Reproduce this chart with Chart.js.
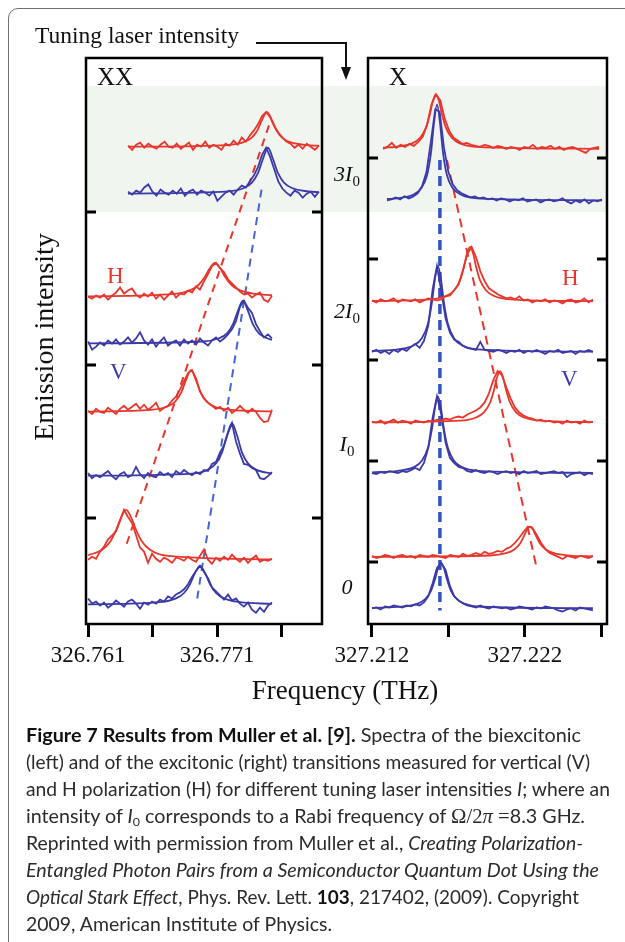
<!DOCTYPE html>
<html><head><meta charset="utf-8">
<script src="https://cdn.jsdelivr.net/npm/chart.js@4.4.0/dist/chart.umd.min.js"></script>
<style>
html,body{margin:0;padding:0;background:#fff;}
body{width:625px;height:942px;position:relative;overflow:hidden;}
#frameBox{position:absolute;left:8px;top:8px;width:700px;height:1000px;border:1.5px solid #707070;border-radius:10px;box-sizing:border-box;}
#band{position:absolute;left:86px;top:86px;width:521px;height:126px;background:#f0f5f0;}
canvas{position:absolute;left:0;top:0;}
.t{position:absolute;white-space:nowrap;font-family:'Liberation Serif','Times New Roman',serif;color:#111;line-height:1;}
.ilab{left:307px;width:80px;text-align:center;font-size:22px;}
.ilab .s{font-size:15px;position:relative;top:5px;font-style:normal;}
.cap{position:absolute;left:26px;font-family:Lato,'Open Sans',sans-serif;font-size:19px;line-height:27px;color:#2b2b2b;white-space:nowrap;transform-origin:0 0;}
.cap b{color:#111;}
.cap sub{font-size:12px;vertical-align:-3px;line-height:0;}
.cap .m{font-family:'Liberation Serif','Times New Roman',serif;font-size:20px;}
</style></head><body>
<div id="frameBox"></div>
<div id="band"></div>
<canvas id="cXX" width="625" height="720"></canvas>
<canvas id="cX" width="625" height="720"></canvas>
<svg width="625" height="100" style="position:absolute;left:0;top:0">
  <polyline points="256,43 346,43 346,70" fill="none" stroke="#111" stroke-width="2"/>
  <polygon points="341,67 351,67 346,80" fill="#111"/>
</svg>
<div class="t" style="left:35px;top:24px;font-size:23.5px;">Tuning laser intensity</div>
<div class="t" style="left:97px;top:64px;font-size:25px;">XX</div>
<div class="t" style="left:389px;top:64px;font-size:25px;">X</div>
<div class="t" style="left:107px;top:264px;font-size:23px;color:#e8362c;">H</div>
<div class="t" style="left:110px;top:360px;font-size:23px;color:#3b3aa8;">V</div>
<div class="t" style="left:562px;top:266px;font-size:23px;color:#e8362c;">H</div>
<div class="t" style="left:561px;top:367px;font-size:23px;color:#3b3aa8;">V</div>
<div class="t ilab" style="top:163px;"><i>3I</i><span class="s">0</span></div>
<div class="t ilab" style="top:300px;"><i>2I</i><span class="s">0</span></div>
<div class="t ilab" style="top:433px;"><i>I</i><span class="s">0</span></div>
<div class="t ilab" style="top:576px;"><i>0</i></div>
<div class="t" style="left:-86px;top:323px;width:260px;text-align:center;font-size:28px;transform:rotate(-90deg);">Emission intensity</div>
<div class="t" style="left:195px;top:677px;width:300px;text-align:center;font-size:27px;">Frequency (THz)</div>

<div class="cap" style="top:721px;"><b>Figure 7 Results from Muller et al. [9].</b> Spectra of the biexcitonic</div>
<div class="cap" style="top:748px;">(left) and of the excitonic (right) transitions measured for vertical (V)</div>
<div class="cap" style="top:775px;">and H polarization (H) for different tuning laser intensities <i>I</i>; where an</div>
<div class="cap" style="top:802px;">intensity of <i>I</i><sub>0</sub> corresponds to a Rabi frequency of <span class="m">Ω/2<i>π</i></span> <span class="m">=</span>8.3 GHz.</div>
<div class="cap" style="top:829px;">Reprinted with permission from Muller et al., <i>Creating Polarization-</i></div>
<div class="cap" style="top:856px;"><i>Entangled Photon Pairs from a Semiconductor Quantum Dot Using the</i></div>
<div class="cap" style="top:883px;"><i>Optical Stark Effect</i>, Phys. Rev. Lett. <b>103</b>, 217402, (2009). Copyright</div>
<div class="cap" style="top:910px;">2009, American Institute of Physics.</div>

<script>
// ---------- XX (biexciton) panel ----------
const xxRange = [326.76084, 326.77914];          // THz
const xxTicks = [326.761, 326.766, 326.771, 326.776];
const xxTickLabels = ['326.761', '', '326.771', ''];
const xxYRange = [-4, 551];                      // intensity (a.u., offset)
const xxYTicks = [100, 250, 400];
const xxSpanLow = [326.76100, 326.77526];        // scan range, levels 0, I0, 2I0
const xxSpanTop = [326.76410, 326.77890];        // scan range, level 3I0
// levels: [0, I0, 2I0, 3I0]
const xxBaseH = [59, 204, 317, 464];
const xxBaseV = [15, 141, 271, 418];
const xxCentreH = [326.76395, 326.76898, 326.77084, 326.77487];
const xxCentreV = [326.76968, 326.77216, 326.77301, 326.77495];
// measured spectra (counts above offset)
const xxH0 = [0,3,1,8,13,20,24,28,38,49,42,36,24,12,8,-3,6,1,-2,2,0,-3,2,1,-1,3,0,-2,4,10,0,-4,2,-1,3,0,5,1,-2,2,-3,1,4,-2,0,-1,1];
const xxV0 = [6,1,3,-1,2,-3,0,4,1,-2,3,5,1,-4,2,0,3,1,5,3,8,6,10,12,15,20,27,33,38,32,26,17,13,9,5,10,4,6,1,-2,2,-5,-8,-3,-7,-1,2];
const xxH1 = [1,-2,3,0,-1,4,1,-2,3,6,2,5,8,3,7,2,5,9,1,4,6,11,15,22,30,38,41,33,20,13,9,6,3,5,1,4,-1,2,6,2,-1,3,0,-6,-10,-9,2];
const xxV1 = [3,-2,1,-1,2,5,0,-3,2,4,-1,1,9,2,-2,3,0,-1,4,1,3,-1,5,2,6,3,1,4,2,6,5,12,14,23,30,42,52,34,22,12,11,8,6,-2,-3,0,4];
const xxH2 = [0,-2,1,-1,2,-3,1,4,9,3,6,8,2,-1,3,0,4,-2,2,-3,1,5,-1,3,2,6,4,10,7,15,22,30,33,28,24,17,13,9,5,2,3,-1,2,4,-3,-5,1];
const xxV2 = [2,-6,-3,1,-2,3,0,4,-1,2,6,1,5,11,3,-1,4,-3,2,6,-2,1,3,-2,4,0,3,-1,5,1,-2,3,6,2,5,9,14,22,36,42,35,30,19,12,6,9,5];
const xxH3 = [1,-3,2,4,-1,3,0,-2,2,5,0,-1,3,-2,1,4,-3,2,0,5,-1,2,0,-3,3,1,6,2,9,5,11,16,22,30,34,29,20,14,9,5,3,-1,2,-2,3,0,-3,1];
const xxV3 = [2,-1,3,1,6,9,2,-2,4,1,-1,3,0,5,-2,2,4,-1,3,1,-2,2,-7,-3,1,3,-1,4,8,6,12,18,26,38,45,36,24,12,5,1,-2,3,1,-4,0,2,-3,2];
// Lorentzian fits: detuning from centre (GHz) and fitted counts [scan start, ...offsets..., scan end]
const xxFitOffsets = [-3.10,-1.86,-1.24,-0.78,-0.39,0,0.39,0.78,1.24,1.86,3.10];
const xxH0fit = [4.4,4,9.8,17.6,29,41.6,49,41.6,29,17.6,9.8,4,0.3];
const xxV0fit = [0.3,2.4,6.1,11.4,19.9,31,38,31,19.9,11.4,6.1,2.4,0.8];
const xxH1fit = [0.3,2,5,9.8,18.3,31,41,31,18.3,9.8,5,2,0.5];
const xxV1fit = [0.4,2.5,6.4,12.5,23,40,52,40,23,12.5,6.4,2.5,2.5];
const xxH2fit = [0.3,2.7,6.6,11.9,19.5,28,33,28,19.5,11.9,6.6,2.7,1.4];
const xxV2fit = [0.2,2,5.2,10,18.8,32,42,32,18.8,10,5.2,2,3.7];
const xxH3fit = [0,1.6,4.2,8.2,15.2,26,34,26,15.2,8.2,4.2,1.6,1.0];
const xxV3fit = [0,2.2,5.5,10.8,20,34,45,34,20,10.8,5.5,2.2,1.4];
// peak-shift guides
const xxGuideHx = [326.77503, 326.76387], xxGuideHy = [485, 70];
const xxGuideVx = [326.77445, 326.76945], xxGuideVy = [422, 20];

// ---------- X (exciton) panel ----------
const xRange = [327.21174, 327.22736];
const xTicks = [327.212, 327.217, 327.222, 327.227];
const xTickLabels = ['327.212', '', '327.222', ''];
const xYRange = [38.6, 599];
const xYTicks = [100, 200, 300, 400, 500];
const xSpanLow = [327.21200, 327.22644];
const xSpanTopH = [327.21272, 327.22684];
const xSpanTopV = [327.21298, 327.22703];
const xBaseH = [105, 238, 358, 509];
const xBaseV = [54, 188, 308, 458];
const xCentreH = [327.22233, 327.22037, 327.21841, 327.21618];
const xCentreV = [327.21651, 327.21631, 327.21631, 327.21625];
const xH0 = [1,-1,0,2,1,-1,1,2,0,1,-1,2,1,0,2,1,0,-1,2,1,0,3,1,2,4,2,5,3,4,6,5,8,10,14,19,25,30,29,22,14,8,4,2,0,-2,1,0,-1,1,0,-1,1];
const xV0 = [0,1,-1,2,1,3,2,1,3,2,4,3,6,12,25,40,45,38,22,12,8,5,3,2,1,3,1,0,2,1,0,1,-1,0,2,1,0,-1,1,0,2,1,0,-2,-3,-1,0,-2,1,0,-1,-2];
const xH1 = [1,0,2,-1,1,3,0,2,1,-1,2,1,0,2,1,3,2,4,3,5,6,5,8,10,12,15,20,29,42,51,47,35,24,15,10,7,5,4,2,3,1,2,0,1,-1,2,0,1,-1,2,0,1];
const xV1 = [0,-1,1,0,2,1,0,2,1,3,5,3,10,25,55,76,58,30,15,10,6,5,2,1,3,1,0,2,1,-1,1,2,0,1,-1,2,0,1,2,-1,0,1,2,0,1,-4,-1,0,1,-2,0,-1];
const xH2 = [1,-1,2,0,1,3,-1,2,1,0,2,-1,1,3,2,1,2,5,6,11,17,31,47,54,44,30,20,13,10,7,5,3,4,2,5,1,2,-1,1,0,2,-1,1,0,-2,1,2,-1,0,3,-1,2];
const xV2 = [0,2,-1,1,-2,2,0,3,1,5,8,4,11,26,62,85,60,33,19,12,10,6,4,3,2,10,2,1,0,2,1,-1,1,0,2,-1,1,0,2,0,-2,1,0,2,-1,0,1,-2,1,0,2,0];
const xH3 = [0,2,6,1,4,2,5,3,7,12,24,44,54,48,30,18,11,8,5,6,4,3,2,4,3,1,3,2,0,2,1,-1,2,1,4,0,2,1,3,0,2,-1,1,2,0,-2,-4,0,1,2];
const xV3 = [0,1,3,1,4,2,4,7,14,28,58,90,88,52,28,16,10,7,5,3,4,2,3,1,2,0,2,1,-1,1,0,2,-1,0,1,-2,0,1,-1,0,2,-1,-3,0,-2,1,-3,0,-1,1];
const xFitOffsets = [-2.61,-1.57,-1.05,-0.65,-0.39,-0.20,0,0.20,0.39,0.65,1.05,1.57,2.61];
const xH0fit = [0.1,1.4,3.7,7.2,13.4,20.8,27,30,27,20.8,13.4,7.2,3.7,1.4,0.6];
const xV0fit = [0.6,1.7,4.5,9,17.5,28.8,39.5,45,39.5,28.8,17.5,9,4.5,1.7,0.2];
const xH1fit = [0.2,1.9,5.1,10.2,19.9,32.6,44.7,51,44.7,32.6,19.9,10.2,5.1,1.9,0.4];
const xV1fit = [0.8,2.3,5.9,12.2,25,43.8,64,76,64,43.8,25,12.2,5.9,2.3,0.2];
const xH2fit = [0.4,2.1,5.4,10.8,21,34.6,47.4,54,47.4,34.6,21,10.8,5.4,2.1,0.2];
const xV2fit = [0.9,2.5,6.6,13.6,28,49,71.8,85,71.8,49,28,13.6,6.6,2.5,0.2];
const xH3fit = [1.2,2.1,5.4,10.8,21,34.6,47.4,54,47.4,34.6,21,10.8,5.4,2.1,0.1];
const xV3fit = [1.4,2.1,5.6,11.7,25,47.5,76,95,76,47.5,25,11.7,5.6,2.1,0.1];
const xGuideVx = [327.21644, 327.21644], xGuideVy = [498, 52];
const xGuideHx = [327.21690, 327.22272], xGuideHy = [498, 97];

// ---------- building ----------
const RED = '#e8362c', BLUE = '#3b3aa8';

function samples(span, vals, base) {
  const n = vals.length;
  return vals.map((v, i) => ({ x: span[0] + (span[1] - span[0]) * i / (n - 1), y: base + v }));
}
function fitCurve(span, centre, offs, vals, base) {
  const pts = [{ x: span[0], y: base + vals[0] }];
  offs.forEach((o, k) => {
    const x = centre + o / 1000;
    if (x > span[0] + 1e-7 && x < span[1] - 1e-7) pts.push({ x, y: base + vals[k + 1] });
  });
  pts.push({ x: span[1], y: base + vals[vals.length - 1] });
  return pts;
}

const panelXX = {
  pad: { left: 86, right: 303, top: 58, bottom: 16 },
  xRange: xxRange, xTicks: xxTicks, xTickLabels: xxTickLabels,
  yRange: xxYRange, yTicks: xxYTicks, offs: xxFitOffsets,
  span: { H: [xxSpanLow, xxSpanLow, xxSpanLow, xxSpanTop], V: [xxSpanLow, xxSpanLow, xxSpanLow, xxSpanTop] },
  base: { H: xxBaseH, V: xxBaseV },
  centre: { H: xxCentreH, V: xxCentreV },
  sig: { H: [xxH0, xxH1, xxH2, xxH3], V: [xxV0, xxV1, xxV2, xxV3] },
  fit: { H: [xxH0fit, xxH1fit, xxH2fit, xxH3fit], V: [xxV0fit, xxV1fit, xxV2fit, xxV3fit] },
  guides: [
    { xs: xxGuideHx, ys: xxGuideHy, color: RED, width: 2, dash: [8, 6] },
    { xs: xxGuideVx, ys: xxGuideVy, color: '#4664d2', width: 2, dash: [8, 6] }
  ]
};
const panelX = {
  pad: { left: 368, right: 18, top: 58, bottom: 16 },
  xRange: xRange, xTicks: xTicks, xTickLabels: xTickLabels,
  yRange: xYRange, yTicks: xYTicks, offs: xFitOffsets,
  span: { H: [xSpanLow, xSpanLow, xSpanLow, xSpanTopH], V: [xSpanLow, xSpanLow, xSpanLow, xSpanTopV] },
  base: { H: xBaseH, V: xBaseV },
  centre: { H: xCentreH, V: xCentreV },
  sig: { H: [xH0, xH1, xH2, xH3], V: [xV0, xV1, xV2, xV3] },
  fit: { H: [xH0fit, xH1fit, xH2fit, xH3fit], V: [xV0fit, xV1fit, xV2fit, xV3fit] },
  guides: [
    { xs: xGuideVx, ys: xGuideVy, color: '#3253c4', width: 3.5, dash: [10, 6] },
    { xs: xGuideHx, ys: xGuideHy, color: RED, width: 2, dash: [9, 6] }
  ]
};

function panelDatasets(p) {
  const ds = [];
  p.guides.forEach(g => ds.push({
    data: g.xs.map((x, i) => ({ x, y: g.ys[i] })), borderColor: g.color, borderWidth: g.width,
    borderDash: g.dash, pointRadius: 0, fill: false, order: 1
  }));
  for (let k = 0; k < 4; k++) {
    [['H', RED], ['V', BLUE]].forEach(([pol, col]) => {
      const span = p.span[pol][k], base = p.base[pol][k], centre = p.centre[pol][k];
      ds.push({ data: fitCurve(span, centre, p.offs, p.fit[pol][k], base), borderColor: col, borderWidth: 1.8,
        pointRadius: 0, fill: false, cubicInterpolationMode: 'monotone', order: 0 });
      ds.push({ data: samples(span, p.sig[pol][k], base), borderColor: col, borderWidth: 1.8,
        pointRadius: 0, fill: false, tension: 0, order: 0 });
    });
  }
  return ds;
}

const framePlugin = {
  id: 'frame',
  afterDatasetsDraw(chart, args, opts) {
    const { ctx, chartArea: a, scales: { y } } = chart;
    ctx.save();
    ctx.strokeStyle = '#000';
    ctx.lineWidth = 2.5;
    ctx.strokeRect(a.left, a.top, a.right - a.left, a.bottom - a.top);
    ctx.lineWidth = 3;
    y.ticks.forEach(t => {
      const py = Math.round(y.getPixelForValue(t.value));
      ctx.beginPath();
      ctx.moveTo(a.left, py); ctx.lineTo(a.left + 10, py);
      ctx.moveTo(a.right, py); ctx.lineTo(a.right - 10, py);
      ctx.stroke();
    });
    ctx.restore();
  }
};

function makeChart(id, p) {
  return new Chart(document.getElementById(id), {
    type: 'line',
    data: { datasets: panelDatasets(p) },
    options: {
      responsive: false, animation: false, devicePixelRatio: 1, events: [],
      layout: { padding: p.pad },
      plugins: { legend: { display: false }, tooltip: { enabled: false } },
      scales: {
        x: {
          type: 'linear', min: p.xRange[0], max: p.xRange[1],
          afterBuildTicks: s => { s.ticks = p.xTicks.map(v => ({ value: v })); },
          afterFit: s => { s.height = 80; },
          ticks: { autoSkip: false, maxRotation: 0, padding: 5, color: '#111',
            font: { family: 'Liberation Serif', size: 23 }, callback: (v, i) => p.xTickLabels[i] },
          grid: { drawOnChartArea: false, drawTicks: true, tickLength: 13, tickWidth: 3, tickColor: '#000' },
          border: { display: false }
        },
        y: {
          type: 'linear', display: false, min: p.yRange[0], max: p.yRange[1],
          afterBuildTicks: s => { s.ticks = p.yTicks.map(v => ({ value: v })); }
        }
      }
    },
    plugins: [framePlugin]
  });
}

makeChart('cXX', panelXX);
makeChart('cX', panelX);

// caption line widths as in the reference layout
const capTargets = [555, 564, 584, 559, 557, 573, 553, 306];
function fitCaption() {
  document.querySelectorAll('.cap').forEach((el, i) => {
    el.style.transform = 'none';
    const w = el.getBoundingClientRect().width;
    if (w > 0) el.style.transform = 'scaleX(' + (capTargets[i] / w) + ')';
  });
}
fitCaption();
if (document.fonts && document.fonts.ready) document.fonts.ready.then(fitCaption);
</script>
</body></html>
